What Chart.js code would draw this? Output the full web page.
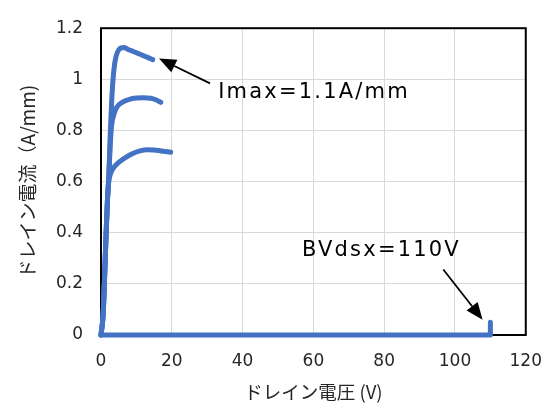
<!DOCTYPE html>
<html>
<head>
<meta charset="utf-8">
<script src="https://cdn.jsdelivr.net/npm/chart.js@4/dist/chart.umd.min.js"></script>
<style>
  html, body { margin: 0; padding: 0; background: #fff; }
  #wrap { width: 558px; height: 403px; }
</style>
</head>
<body>
<div id="wrap"><canvas id="c" width="558" height="403"></canvas></div>
<script>
// ---- data (drain voltage V, drain current A/mm) ----
const curveLowV  = [0, 0.6, 1.0, 1.4, 1.8, 2.2, 2.8, 3.6, 5, 7, 9, 11, 13, 15, 17, 19.7];
const curveLowI  = [0, 0.08, 0.22, 0.38, 0.52, 0.6, 0.635, 0.655, 0.675, 0.695, 0.71, 0.72, 0.725, 0.724, 0.72, 0.715];

const curveMidV  = [0, 0.6, 1.0, 1.4, 1.8, 2.2, 2.6, 3.0, 3.6, 4.4, 6, 8, 10, 12, 14, 15.5, 16.9];
const curveMidI  = [0, 0.08, 0.22, 0.38, 0.52, 0.62, 0.74, 0.82, 0.86, 0.89, 0.91, 0.922, 0.927, 0.928, 0.926, 0.92, 0.91];

const curveHighV = [0, 0.6, 1.0, 1.4, 1.8, 2.2, 2.6, 3.0, 3.4, 3.9, 4.6, 5.5, 6.5, 7.5, 9, 11, 13, 14.6];
const curveHighI = [0, 0.08, 0.22, 0.38, 0.52, 0.62, 0.78, 0.91, 1.0, 1.065, 1.105, 1.122, 1.125, 1.118, 1.11, 1.098, 1.087, 1.077];

const breakdownV = [0, 110, 110];
const breakdownI = [0, 0, 0.05];

const xTicks = [0, 20, 40, 60, 80, 100, 120];
const yTicks = [0, 0.2, 0.4, 0.6, 0.8, 1, 1.2];
const yTickLabels = ['0', '0.2', '0.4', '0.6', '0.8', '1', '1.2'];

const xTitle = 'ドレイン電圧 (V)';
const yTitle = 'ドレイン電流（A/mm)';

// annotations in data coordinates
const annImax = { text: 'Imax=1.1A/mm', textAt: [33.1, 0.927], from: [30.8, 0.984], to: [16.4, 1.081] };
const annBV   = { text: 'BVdsx=110V',   textAt: [56.8, 0.309], from: [96.7, 0.256], to: [107.8, 0.060] };

// ---- build ----
const pts = (xs, ys) => xs.map((x, i) => ({ x: x, y: ys[i] }));
const BLUE = '#4472C4';
const lineStyle = {
  borderColor: BLUE, backgroundColor: BLUE, borderWidth: 5,
  pointRadius: 0, pointHoverRadius: 0, showLine: true, fill: false,
  borderCapStyle: 'round', borderJoinStyle: 'round', clip: false
};

// target plot-area box in canvas pixels
const AREA = { left: 101, top: 22, right: 532, bottom: 335 };

const framePlugin = {
  id: 'frame',
  beforeDatasetsDraw(chart) {
    const { ctx, chartArea: a } = chart;
    ctx.save();
    ctx.strokeStyle = '#000';
    ctx.lineWidth = 2;
    ctx.strokeRect(a.left, a.top, a.right - a.left, a.bottom - a.top);
    ctx.restore();
  }
};

function drawArrow(ctx, x1, y1, x2, y2) {
  const ang = Math.atan2(y2 - y1, x2 - x1);
  const len = 17, half = 7;
  const bx = x2 - len * Math.cos(ang), by = y2 - len * Math.sin(ang);
  ctx.beginPath();
  ctx.moveTo(x1, y1);
  ctx.lineTo(bx, by);
  ctx.stroke();
  ctx.beginPath();
  ctx.moveTo(x2, y2);
  ctx.lineTo(bx + half * Math.sin(ang), by - half * Math.cos(ang));
  ctx.lineTo(bx - half * Math.sin(ang), by + half * Math.cos(ang));
  ctx.closePath();
  ctx.fill();
}

const annotationPlugin = {
  id: 'annotations',
  afterDatasetsDraw(chart) {
    const { ctx } = chart;
    const xs = chart.scales.x, ys = chart.scales.y;
    ctx.save();
    ctx.strokeStyle = '#000';
    ctx.fillStyle = '#000';
    ctx.lineWidth = 1.8;
    [annImax, annBV].forEach(an => {
      drawArrow(ctx,
        xs.getPixelForValue(an.from[0]), ys.getPixelForValue(an.from[1]),
        xs.getPixelForValue(an.to[0]), ys.getPixelForValue(an.to[1]));
      ctx.font = '21px "DejaVu Sans"';
      ctx.textAlign = 'left';
      ctx.textBaseline = 'alphabetic';
      try { ctx.letterSpacing = '2.2px'; } catch (e) {}
      ctx.fillText(an.text, xs.getPixelForValue(an.textAt[0]), ys.getPixelForValue(an.textAt[1]));
    });
    ctx.restore();
  }
};

const chart = new Chart(document.getElementById('c'), {
  type: 'scatter',
  data: {
    datasets: [
      Object.assign({ data: pts(breakdownV, breakdownI), tension: 0 }, lineStyle),
      Object.assign({ data: pts(curveLowV, curveLowI), cubicInterpolationMode: 'monotone' }, lineStyle),
      Object.assign({ data: pts(curveMidV, curveMidI), cubicInterpolationMode: 'monotone' }, lineStyle),
      Object.assign({ data: pts(curveHighV, curveHighI), cubicInterpolationMode: 'monotone' }, lineStyle)
    ]
  },
  options: {
    responsive: false,
    animation: false,
    devicePixelRatio: 1,
    layout: { autoPadding: false, padding: { left: 0, right: 558 - AREA.right, top: AREA.top, bottom: 0 } },
    plugins: { legend: { display: false }, tooltip: { enabled: false } },
    scales: {
      x: {
        type: 'linear', min: 0, max: 120,
        afterFit(s) { s.height = 403 - AREA.bottom; },
        afterBuildTicks(s) { s.ticks = xTicks.map(v => ({ value: v })); },
        grid: { color: '#d9d9d9', lineWidth: 1, drawTicks: false },
        border: { display: false },
        ticks: { padding: 16, color: '#262626', font: { family: 'DejaVu Sans', size: 17 }, maxRotation: 0 },
        title: { display: true, text: xTitle, color: '#262626', padding: { top: 0, bottom: 0 },
                 font: { family: 'Noto Sans CJK JP', size: 18.5, lineHeight: 1.2 } }
      },
      y: {
        type: 'linear', min: 0, max: 1.2,
        afterFit(s) { s.width = AREA.left; },
        afterBuildTicks(s) { s.ticks = yTicks.map(v => ({ value: v })); },
        grid: { color: '#d9d9d9', lineWidth: 1, drawTicks: false },
        border: { display: false },
        ticks: { padding: 18, color: '#262626', font: { family: 'DejaVu Sans', size: 17 },
                 callback: (v) => yTickLabels[yTicks.indexOf(v)] ?? String(v) },
        title: { display: true, text: yTitle, color: '#262626', padding: { top: 16, bottom: 0 },
                 font: { family: 'Noto Sans CJK JP', size: 19, lineHeight: 1.2 } }
      }
    }
  },
  plugins: [framePlugin, annotationPlugin]
});

// correct any layout drift so the plot area lands on the target box
for (let i = 0; i < 3; i++) {
  const a = chart.chartArea;
  const p = chart.options.layout.padding;
  const dTop = a.top - AREA.top, dRight = AREA.right - a.right;
  if (Math.abs(dTop) < 0.5 && Math.abs(dRight) < 0.5) break;
  p.top -= dTop;
  p.right -= dRight;
  chart.update('none');
}
</script>
</body>
</html>
